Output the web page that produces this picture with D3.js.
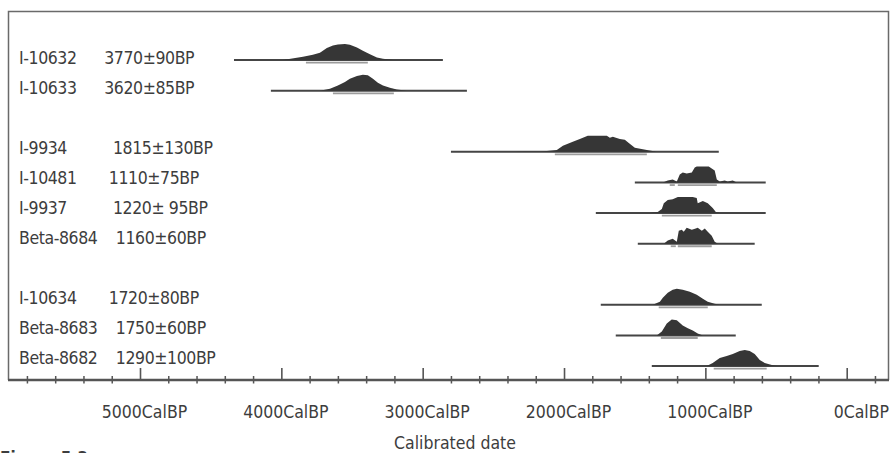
<!DOCTYPE html>
<html>
<head>
<meta charset="utf-8">
<script src="https://cdn.jsdelivr.net/npm/d3@7"></script>
<style>
  html, body { margin: 0; padding: 0; background: #fff; }
  svg { display: block; }
  text { font-family: "DejaVu Sans Condensed", "Liberation Sans", sans-serif; fill: #3d3d3d; }
</style>
</head>
<body>
<svg id="chart" width="891" height="453"></svg>
<script>
// Radiocarbon samples, grouped; empty slots separate the groups
const rowSlots = [0, 1, 3, 4, 5, 6, 8, 9, 10];

const rowLabels = [
  "I-10632      3770±90BP",
  "I-10633      3620±85BP",
  "I-9934          1815±130BP",
  "I-10481       1110±75BP",
  "I-9937          1220± 95BP",
  "Beta-8684    1160±60BP",
  "I-10634       1720±80BP",
  "Beta-8683    1750±60BP",
  "Beta-8682    1290±100BP"
];

// Full plotted extent of each calibration (calBP, older → younger)
const plotRanges = [
  [4335, 2857],
  [4074, 2687],
  [2800, 905],
  [1499, 573],
  [1775, 573],
  [1478, 651],
  [1740, 601],
  [1634, 785],
  [1379, 198]
];

// Highest-probability ranges (calBP)
const hpdRanges = [
  [[3826, 3388]],
  [[3635, 3204]],
  [[2065, 1414]],
  [[1252, 1216], [1195, 919]],
  [[1308, 955]],
  [[1245, 1209], [1195, 955]],
  [[1330, 983]],
  [[1315, 1054]],
  [[941, 566]]
];

// Relative probability profiles: [calBP, relative density]
const densities = [
  [[3989, 0], [3847, 0.21], [3777, 0.33], [3727, 0.46], [3678, 0.75], [3635, 0.92], [3600, 0.98],
   [3550, 1], [3515, 0.96], [3465, 0.79], [3423, 0.58], [3373, 0.36], [3324, 0.17], [3281, 0.08], [3211, 0]],
  [[3727, 0], [3656, 0.12], [3600, 0.33], [3550, 0.54], [3515, 0.75], [3465, 0.92], [3423, 1],
   [3388, 0.96], [3352, 0.75], [3317, 0.5], [3281, 0.33], [3232, 0.19], [3182, 0.08], [3112, 0]],
  [[2348, 0], [2291, 0.03], [2171, 0.03], [2122, 0.06], [2051, 0.12], [2008, 0.375], [1938, 0.625],
   [1888, 0.81], [1832, 1], [1697, 1], [1676, 0.875], [1655, 0.94], [1605, 0.81], [1570, 0.75],
   [1535, 0.5], [1499, 0.25], [1414, 0.12], [1344, 0]],
  [[1301, 0], [1266, 0.12], [1231, 0.19], [1202, 0.06], [1181, 0.5], [1160, 0.62], [1132, 0.56],
   [1096, 0.62], [1075, 0.94], [1061, 1], [976, 1], [955, 0.87], [934, 0.75], [919, 0.19],
   [898, 0.06], [863, 0.12], [842, 0.06], [806, 0.12], [778, 0]],
  [[1393, 0], [1337, 0.06], [1308, 0.25], [1294, 0.62], [1266, 0.81], [1231, 0.87], [1195, 1],
   [1089, 1], [1061, 0.94], [1054, 0.62], [1018, 0.75], [983, 0.62], [948, 0.31], [926, 0.06], [898, 0]],
  [[1294, 0], [1266, 0.19], [1231, 0.31], [1202, 0.12], [1188, 0.81], [1167, 0.87], [1153, 0.75],
   [1132, 1], [1096, 0.87], [1068, 0.94], [1054, 1], [1025, 0.81], [1004, 0.94], [983, 0.75],
   [955, 0.5], [934, 0.12], [912, 0]],
  [[1372, 0], [1322, 0.19], [1301, 0.44], [1266, 0.75], [1231, 0.94], [1202, 1], [1160, 0.94],
   [1110, 0.81], [1061, 0.625], [1018, 0.375], [983, 0.19], [934, 0.06], [898, 0]],
  [[1344, 0], [1308, 0.25], [1273, 0.75], [1238, 1], [1202, 0.94], [1160, 0.625], [1124, 0.44],
   [1089, 0.31], [1054, 0.12], [1018, 0]],
  [[990, 0], [948, 0.19], [898, 0.5], [849, 0.625], [806, 0.75], [757, 0.94], [721, 1], [686, 0.94],
   [651, 0.75], [615, 0.375], [580, 0.19], [530, 0.06], [495, 0]]
];

const majorTicks = [5000, 4000, 3000, 2000, 1000, 0];
const tickLabels = ["5000CalBP", "4000CalBP", "3000CalBP", "2000CalBP", "1000CalBP", "0CalBP"];
const minorTicks = d3.range(5800, -201, -200).filter(v => v % 1000 !== 0);
const axisTitle = "Calibrated date";
const figureCaption = "Figure 5.3";

const svg = d3.select("#chart");
const frame = { left: 8.5, top: 11.5, right: 888.5, bottom: 380 };

const x = d3.scaleLinear().domain([5000, 0]).range([140, 846.7]);
const yLine = d3.scaleLinear().domain([0, 10]).range([60.1, 366]);
const yText = d3.scaleLinear().domain([0, 10]).range([64, 364]);
const hScale = d3.scaleLinear().domain([0, 1]).range([0, 16]);

// Frame (left, top, right) and the heavier baseline axis
svg.append("path")
  .attr("d", `M${frame.left},${frame.bottom} V${frame.top} H${frame.right} V${frame.bottom}`)
  .attr("fill", "none").attr("stroke", "#6a6a6a").attr("stroke-width", 1.5);
svg.append("line")
  .attr("x1", frame.left - 0.5).attr("x2", frame.right + 0.5)
  .attr("y1", frame.bottom).attr("y2", frame.bottom)
  .attr("stroke", "#555").attr("stroke-width", 2.5);

// Major ticks with labels
const major = svg.append("g")
  .attr("transform", `translate(0,${frame.bottom})`)
  .call(d3.axisBottom(x).tickValues(majorTicks).tickSize(-12).tickPadding(26)
    .tickFormat((d, i) => tickLabels[i]));
major.select(".domain").remove();
major.selectAll(".tick line").attr("stroke", "#555").attr("stroke-width", 1.6);
major.selectAll(".tick text")
  .attr("font-size", "17.5px").attr("font-family", null).attr("fill", "#3d3d3d")
  .attr("x", 4);
// the label at the young end sits flush with the frame's right edge
major.selectAll(".tick text").filter(d => d === 0)
  .attr("text-anchor", "end").attr("x", frame.right - x(0));

// Minor ticks crossing the axis
const minor = svg.append("g")
  .attr("transform", `translate(0,${frame.bottom})`)
  .call(d3.axisBottom(x).tickValues(minorTicks).tickSize(-4).tickFormat(""));
minor.select(".domain").remove();
minor.selectAll(".tick line").attr("y1", 3.5).attr("y2", -4)
  .attr("stroke", "#555").attr("stroke-width", 1.5);

// Sample labels
svg.append("g").selectAll("text")
  .data(rowLabels)
  .join("text")
  .attr("x", 19)
  .attr("y", (d, i) => yText(rowSlots[i]))
  .attr("font-size", "17.5px")
  .attr("letter-spacing", "-0.4px")
  .style("white-space", "pre")
  .attr("xml:space", "preserve")
  .text(d => d);

// Calibrated distributions
const rows = svg.append("g");
densities.forEach((dens, i) => {
  const yL = yLine(rowSlots[i]);
  const g = rows.append("g");
  const area = d3.area()
    .x(d => x(d[0]))
    .y0(yL)
    .y1(d => yL - hScale(d[1]));
  g.append("line")
    .attr("x1", x(plotRanges[i][0])).attr("x2", x(plotRanges[i][1]))
    .attr("y1", yL).attr("y2", yL)
    .attr("stroke", "#454545").attr("stroke-width", 2);
  g.append("path")
    .datum(dens)
    .attr("d", area)
    .attr("fill", "#363636");
  g.selectAll("line.hpd")
    .data(hpdRanges[i])
    .join("line")
    .attr("class", "hpd")
    .attr("x1", d => x(d[0])).attr("x2", d => x(d[1]))
    .attr("y1", yL + 2.6).attr("y2", yL + 2.6)
    .attr("stroke", "#9c9c9c").attr("stroke-width", 1.8);
});

// Axis title and caption
svg.append("text")
  .attr("x", 455).attr("y", 449)
  .attr("text-anchor", "middle")
  .attr("font-size", "17.5px")
  .text(axisTitle);

svg.append("text")
  .attr("x", 0).attr("y", 464)
  .attr("font-size", "17px").attr("font-weight", "bold")
  .attr("fill", "#555")
  .text(figureCaption);
</script>
</body>
</html>
